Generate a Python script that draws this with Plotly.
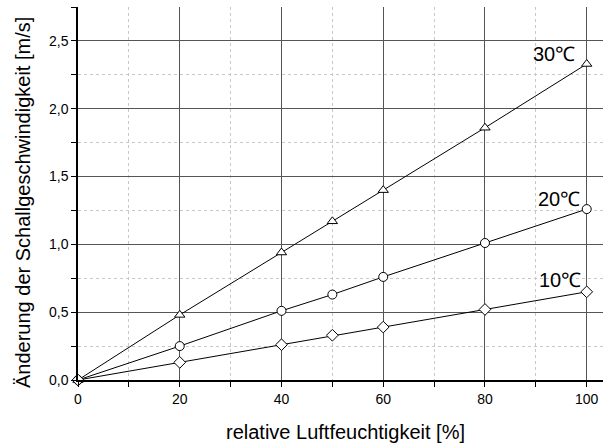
import plotly.graph_objects as go

humidity = [0, 20, 40, 50, 60, 80, 100]
dv_30 = [0, 0.48, 0.94, 1.17, 1.40, 1.86, 2.33]
dv_20 = [0, 0.25, 0.51, 0.63, 0.76, 1.01, 1.26]
dv_10 = [0, 0.13, 0.26, 0.33, 0.39, 0.52, 0.65]

series = [
    ("30℃", dv_30, "triangle-up", 93.5, 2.405),
    ("20℃", dv_20, "circle", 94.5, 1.338),
    ("10℃", dv_10, "diamond", 94.7, 0.739),
]

FONT = "Arial"

fig = go.Figure()
for name, vals, sym, lx, ly in series:
    fig.add_trace(go.Scatter(
        x=humidity, y=vals, mode="lines+markers", name=name,
        line=dict(color="black", width=1),
        marker=dict(symbol=sym, size=9, color="white",
                    line=dict(color="black", width=1)),
        cliponaxis=False, showlegend=False,
    ))
    fig.add_annotation(x=lx, y=ly, text=name, showarrow=False,
                       font=dict(family=FONT, size=20, color="black"))

# axis titles placed as paper annotations
fig.add_annotation(text="relative Luftfeuchtigkeit [%]", xref="paper", yref="paper",
                   x=(345 - 78) / 525, y=-(432 - 380) / 373, showarrow=False,
                   xanchor="center", yanchor="middle",
                   font=dict(family=FONT, size=20, color="black"))
fig.add_annotation(text="Änderung der Schallgeschwindigkeit [m/s]", xref="paper", yref="paper",
                   x=-(78 - 23) / 525, y=(380 - 203) / 373, showarrow=False, textangle=-90,
                   xanchor="center", yanchor="middle",
                   font=dict(family=FONT, size=20, color="black"))

fig.update_layout(
    width=603, height=445,
    margin=dict(l=78, r=0, t=7, b=65),
    paper_bgcolor="white", plot_bgcolor="white",
    separators=",.",
    font=dict(family=FONT, color="black"),
)
fig.update_xaxes(
    range=[0, 103.2], tickvals=[0, 20, 40, 60, 80, 100],
    showline=True, linecolor="black", linewidth=2,
    ticks="outside", ticklen=5, tickcolor="black", tickwidth=1,
    showgrid=True, gridcolor="#555555", gridwidth=1,
    zeroline=False, automargin=False,
    tickfont=dict(family=FONT, size=14),
    minor=dict(dtick=10, tick0=0, ticks="outside", ticklen=5, tickcolor="black",
               showgrid=True, gridcolor="#c8c8c8", griddash="dot", gridwidth=1),
)
fig.update_yaxes(
    range=[0, 2.75], dtick=0.5, tick0=0, tickformat=".1f",
    showline=True, linecolor="black", linewidth=1.5,
    ticks="outside", ticklen=5, tickcolor="black", tickwidth=1,
    showgrid=True, gridcolor="#555555", gridwidth=1,
    zeroline=False, automargin=False,
    tickfont=dict(family=FONT, size=14),
    minor=dict(dtick=0.25, tick0=0, ticks="outside", ticklen=5, tickcolor="black",
               showgrid=True, gridcolor="#c8c8c8", griddash="dot", gridwidth=1),
)

fig.write_html("out.html", config={"displayModeBar": False},
               post_script="document.body.style.margin='0';")
